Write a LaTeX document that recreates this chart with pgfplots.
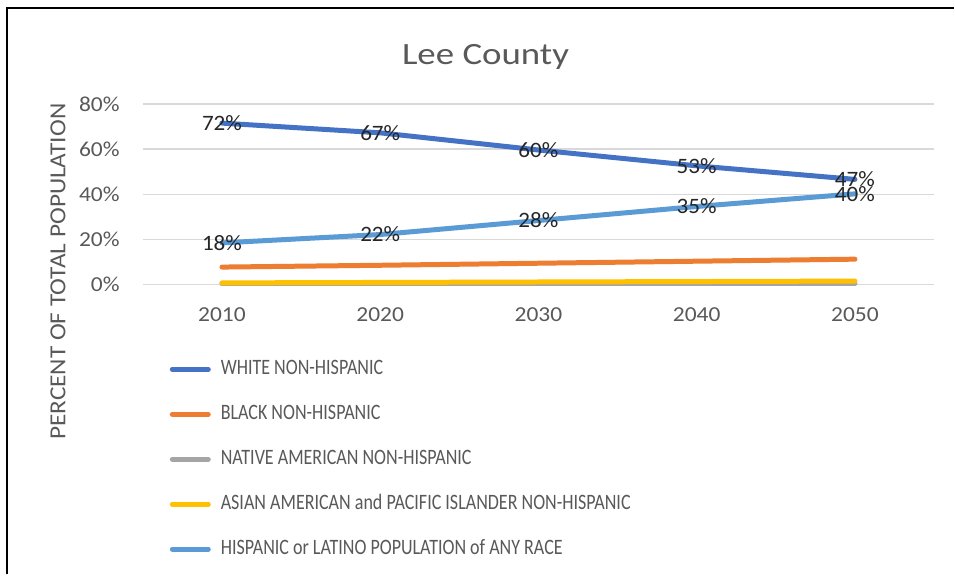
\documentclass[border=0pt]{standalone}
\usepackage{pgfplots}
\pgfplotsset{compat=1.18}
\usepackage{fontspec}
\setmainfont{Carlito}
\newfontfamily\titlefont[FakeStretch=1.19]{Carlito}
\newfontfamily\tickfont[FakeStretch=1.1]{Carlito}
\newfontfamily\labfont[FakeStretch=1.05]{Carlito}
\newfontfamily\legfont[FakeStretch=0.82]{Carlito}
\newfontfamily\ylabfont[FakeStretch=1.1]{Carlito}
\definecolor{cwhite}{HTML}{4472C4}
\definecolor{cblack}{HTML}{ED7D31}
\definecolor{cnative}{HTML}{A5A5A5}
\definecolor{casian}{HTML}{FFC000}
\definecolor{chisp}{HTML}{5B9BD5}
\definecolor{tickc}{HTML}{595959}
\definecolor{labc}{HTML}{262626}
\definecolor{gridc}{HTML}{D9D9D9}
\begin{document}
\begin{tikzpicture}
\path[fill=white] (0,0) rectangle (716.25pt,431.25pt);
\draw[black, line width=1.5pt] (5.25pt,0) -- (5.25pt,425.25pt) -- (716.25pt,425.25pt);
\node[anchor=base, font=\titlefont\fontsize{23.25}{28}\selectfont, text=tickc] at (364.5pt,382.5pt) {Lee County};
\node[rotate=90, font=\ylabfont\fontsize{17.25}{20}\selectfont, text=tickc] at (43.5pt,227.25pt) {PERCENT OF TOTAL POPULATION};
\begin{axis}[
  at={(107.25pt,217.5pt)}, anchor=south west,
  scale only axis, width=594pt, height=135.75pt,
  xmin=2005, xmax=2055, ymin=0, ymax=80,
  xtick={2010,2020,2030,2040,2050},
  xticklabels={2010,2020,2030,2040,2050},
  ytick={0,20,40,60,80},
  yticklabels={0\%,20\%,40\%,60\%,80\%},
  axis line style={draw=none}, major tick style={draw=none},
  ymajorgrids, grid style={color=gridc, line width=1pt},
  yticklabel style={font=\tickfont\fontsize{16}{19}\selectfont, text=tickc, anchor=east, inner sep=0pt, xshift=-17.25pt},
  xticklabel style={font=\tickfont\fontsize{16}{19}\selectfont, text=tickc, anchor=north, inner sep=0pt, yshift=-17.25pt},
  clip=false,
  legend cell align=left,
  legend style={at={(0.0341,-0.409)}, anchor=north west, draw=none, fill=none,
    inner sep=0pt, outer sep=0pt, row sep=17.75pt,
    font=\legfont\fontsize{16.5}{19}\selectfont, text=tickc,
    nodes={inner sep=0pt, text height=12pt, text depth=4pt},
    /tikz/every odd column/.append style={column sep=7.5pt}},
  legend image code/.code={\draw[#1, line width=3.75pt, line cap=round] (1.875pt,0pt) -- (28.875pt,0pt);},
  every axis plot/.append style={line width=3.75pt, line cap=round, line join=round},
  lbl/.style={nodes near coords, point meta=explicit symbolic,
    every node near coord/.append style={anchor=center, inner sep=0pt, text=labc, font=\labfont\fontsize{16.5}{19}\selectfont}},
]
\addplot[cwhite, lbl] coordinates {(2010,71.5)[72\%] (2020,67.2)[67\%] (2030,59.6)[60\%] (2040,52.6)[53\%] (2050,46.6)[47\%]};
\addlegendentry{WHITE NON-HISPANIC}
\addplot[cblack] coordinates {(2010,7.8) (2020,8.6) (2030,9.5) (2040,10.4) (2050,11.3)};
\addlegendentry{BLACK NON-HISPANIC}
\addplot[cnative] coordinates {(2010,0.5) (2020,0.5) (2030,0.5) (2040,0.5) (2050,0.5)};
\addlegendentry{NATIVE AMERICAN NON-HISPANIC}
\addplot[casian] coordinates {(2010,0.8) (2020,1.0) (2030,1.2) (2040,1.4) (2050,1.6)};
\addlegendentry{ASIAN AMERICAN and PACIFIC ISLANDER NON-HISPANIC}
\addplot[chisp, lbl] coordinates {(2010,18.5)[18\%] (2020,22.2)[22\%] (2030,28.4)[28\%] (2040,34.6)[35\%] (2050,40.2)[40\%]};
\addlegendentry{HISPANIC or LATINO POPULATION of ANY RACE}
\end{axis}
\end{tikzpicture}
\end{document}
